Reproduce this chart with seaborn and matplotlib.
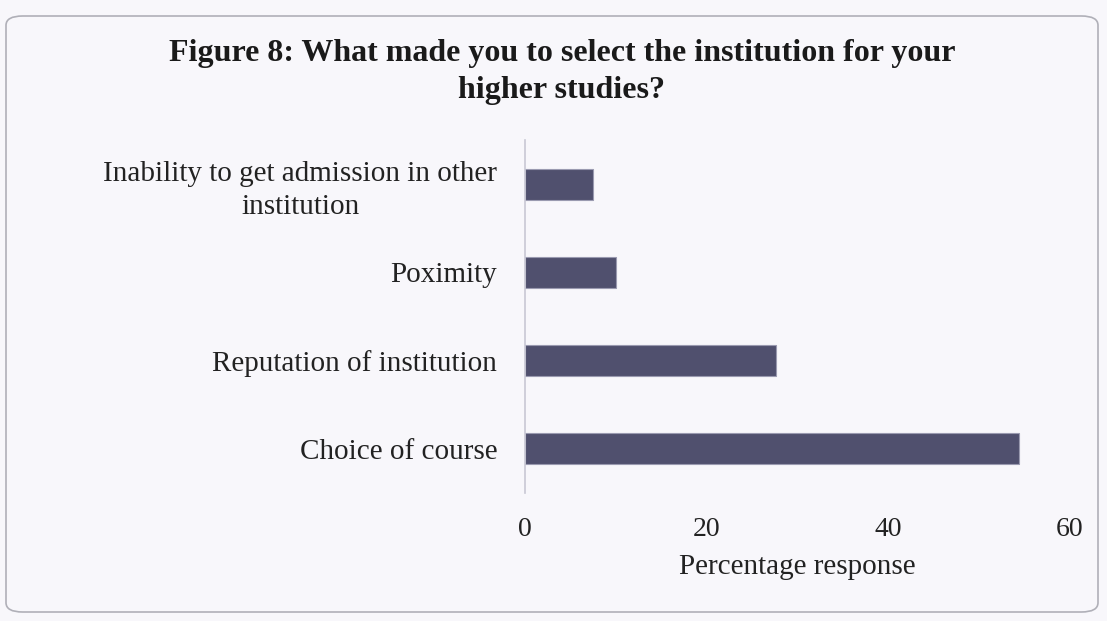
import matplotlib
matplotlib.use("Agg")
import matplotlib.pyplot as plt
import seaborn as sns
import pandas as pd
from matplotlib.patches import FancyBboxPatch

categories = ["Inability to get admission in other\ninstitution", "Poximity",
              "Reputation of institution", "Choice of course"]
values = [7.5, 10.0, 27.6, 54.4]
xticks = [0, 20, 40, 60]
title = "Figure 8: What made you to select the institution for your\nhigher studies?"
xlabel = "Percentage response"

sns.set_theme(style="white")
plt.rcParams['font.family'] = ['Liberation Serif', 'DejaVu Serif']

bg = "#f8f7fb"
fig = plt.figure(figsize=(11.07, 6.21), dpi=100, facecolor=bg)
ax = fig.add_axes([525/1107, 1-493/621, (1070-525)/1107, (493-140)/621])
ax.set_facecolor(bg)

df = pd.DataFrame({"cat": categories, "val": values})
sns.barplot(data=df, y="cat", x="val", orient="h", color="#50506e", width=0.35,
            saturation=1, ax=ax)
for p in ax.patches:
    p.set_edgecolor("#9a9ab0")
    p.set_linewidth(0.8)

ax.set_xlim(0, 60)
ax.set_ylim(3.5, -0.5)
ax.set_xticks(xticks)
ax.set_xticklabels([str(t) for t in xticks], fontsize=20, color="#222222")
ax.tick_params(axis="x", length=0, pad=17)
ax.tick_params(axis="y", length=0, pad=20)
for lab in ax.get_yticklabels():
    lab.set_fontsize(21)
    lab.set_color("#222222")
    lab.set_multialignment("center")
    lab.set_linespacing(1.35)
ax.set_ylabel("")
ax.set_xlabel(xlabel, fontsize=21, color="#222222", labelpad=9)
for s in ["top", "right", "bottom"]:
    ax.spines[s].set_visible(False)
ax.spines["left"].set_color("#c8c8d4")
ax.spines["left"].set_linewidth(1.2)

fig.text(562/1107, 1-72/621, title, ha="center", va="center", fontsize=23,
         fontweight="bold", color="#1a1a1a", linespacing=1.4)

box = FancyBboxPatch((6/1107, 1-612/621), (1098-6)/1107, (612-16)/621,
                     boxstyle="round,pad=0,rounding_size=0.015",
                     transform=fig.transFigure, fill=False,
                     edgecolor="#b0b0b8", linewidth=1.2)
fig.patches.append(box)

fig.savefig("out.png", dpi=100, facecolor=bg)
